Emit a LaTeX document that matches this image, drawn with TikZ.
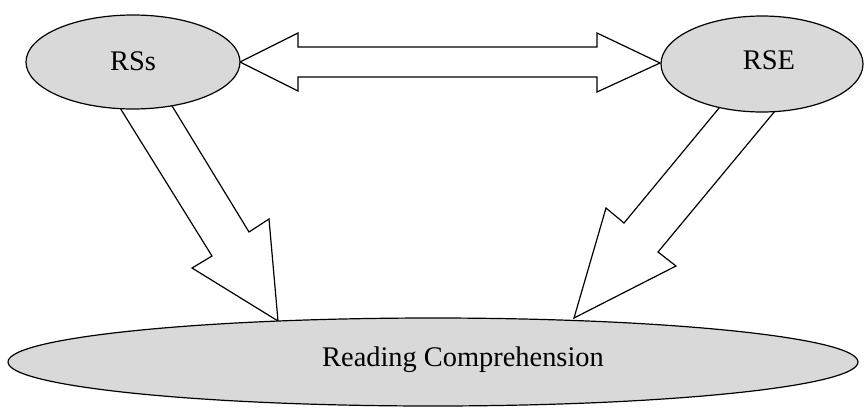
\documentclass[tikz,border=0pt]{standalone}
\usepackage{fontspec}
\setmainfont{Liberation Serif}
\usetikzlibrary{shapes.geometric}
\begin{document}
\begin{tikzpicture}[x=0.5pt,y=-0.5pt,
  blob/.style={ellipse,draw=black,fill=gray!30,line width=0.6pt,inner sep=0pt},
  blockarrow/.style={draw=black,fill=white,line width=0.6pt,line join=miter},
  lbl/.style={font=\fontsize{14.2}{17}\selectfont,inner sep=0pt}]
\useasboundingbox (0,0) rectangle (866,407);
% block arrows
\draw[blockarrow] (240,62) -- (298,33) -- (298,47) -- (597,47) -- (597,33) -- (660,63)
  -- (597,92) -- (597,77) -- (298,77) -- (298,91) -- cycle;
\draw[blockarrow] (112,95) -- (212,256) -- (192,268) -- (278,321) -- (269,219) -- (249,232) -- (166,96);
\draw[blockarrow] (729,96) -- (624,223) -- (606,208) -- (574,318) -- (676,266) -- (658,252) -- (780,105);
% ellipses
\node[blob,minimum width=107pt,minimum height=47pt] (rss) at (133,62) {};
\node[blob,minimum width=101pt,minimum height=48pt] (rse) at (762,64) {};
\node[blob,minimum width=425pt,minimum height=44pt] (rc) at (433,362) {};
% labels
\node[lbl] (trss) at (133,61) {RSs};
\node[lbl] (trse) at (769,60) {RSE};
\node[lbl] (trc) at (463,360) {Reading Comprehension};
\end{tikzpicture}
\end{document}
